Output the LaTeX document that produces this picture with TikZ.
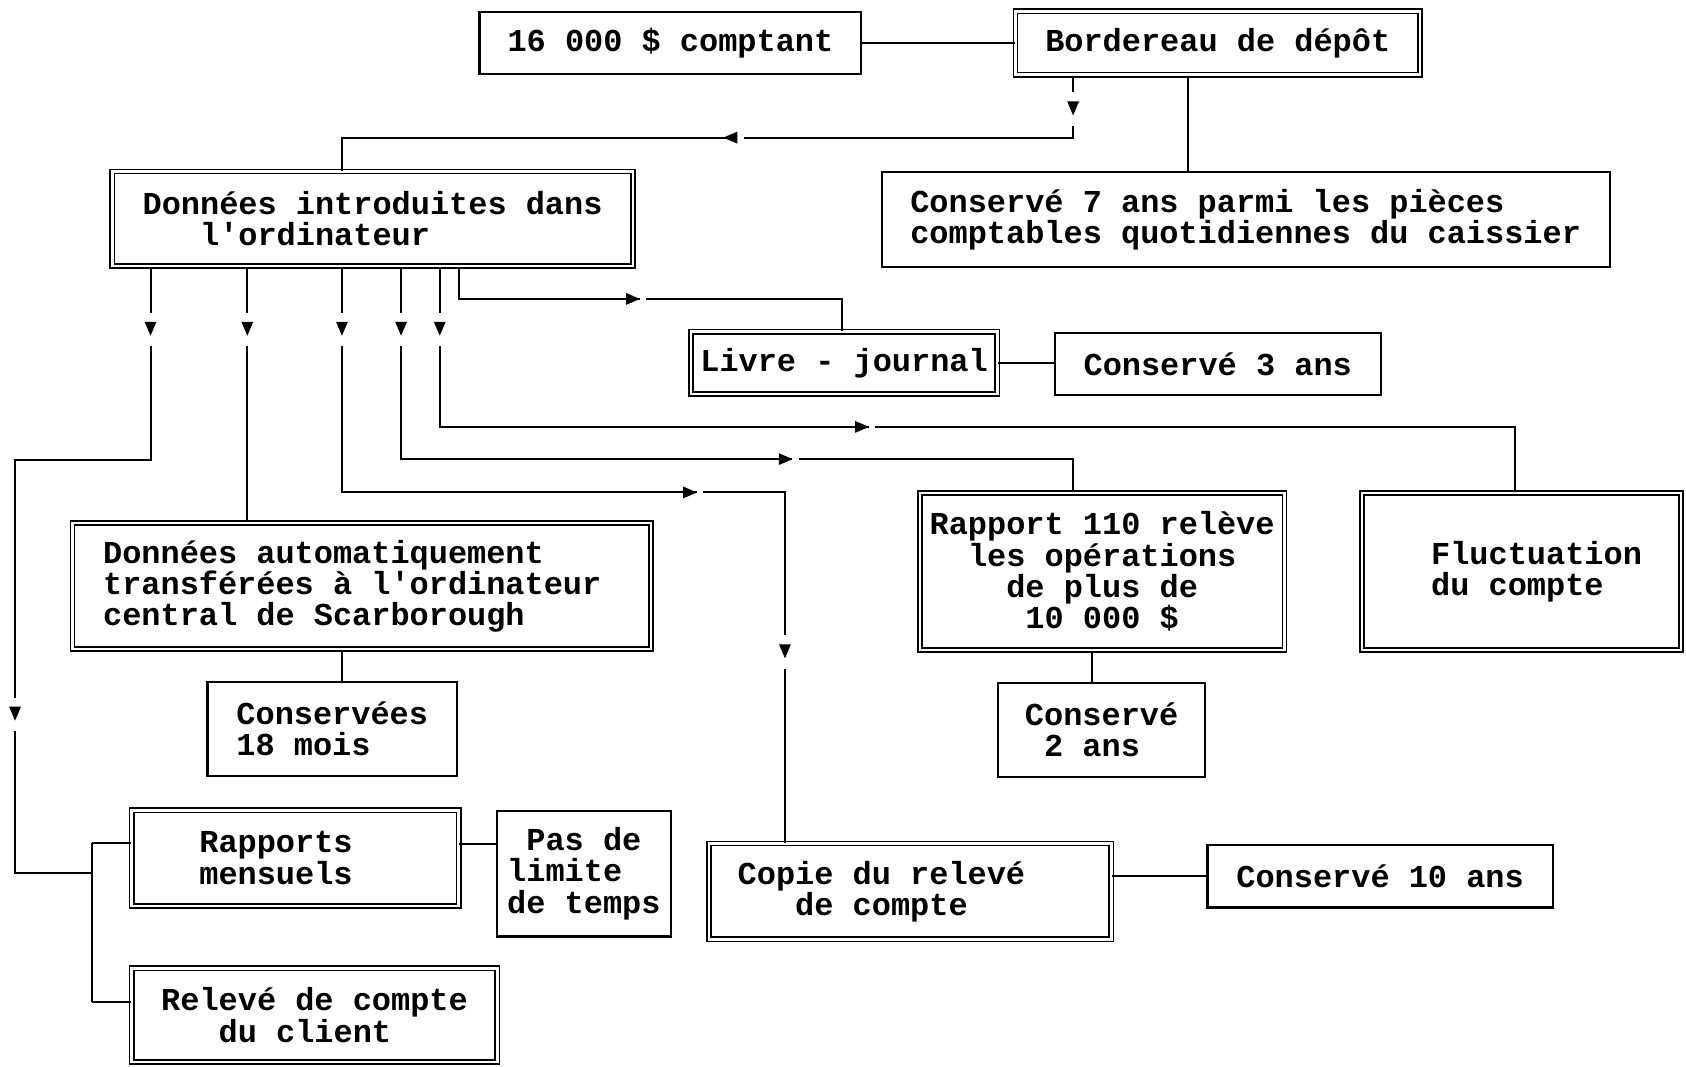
\documentclass[tikz,border=0pt]{standalone}
\usepackage{fontspec}
\setmonofont{Liberation Mono}
\usetikzlibrary{decorations.markings}

% small triangular tips set into a line, with a short break in the line
\newcommand\tipdown{\fill[white] (-15,-3) rectangle (16,3);\fill (-6.5,-5.5) -- (6.5,0) -- (-6.5,5.5) -- cycle;}
\newcommand\tipright{\fill[white] (6,-3) rectangle (12,3);\fill (-6.5,-5.5) -- (6.5,0) -- (-6.5,5.5) -- cycle;}
\newcommand\tipleft{\fill[white] (-13,-3) rectangle (-6,3);\fill (-6.5,-5.5) -- (6.5,0) -- (-6.5,5.5) -- cycle;}

\begin{document}
\begin{tikzpicture}[x=1pt,y=-1pt,
  txt/.style={font=\ttfamily\bfseries\fontsize{29.7}{29}\selectfont, inner sep=0pt, align=left},
  sbox/.style={txt, draw, line width=2pt},
  dbox/.style={txt, draw, line width=1.5pt, double, double distance=2.4pt},
  wire/.style={line width=1.9pt},
  marks/.style={postaction={decorate, decoration={markings, #1}}}]

\useasboundingbox (0,0) rectangle (1568,992);

% boxes
\node[sbox, minimum width=355pt, minimum height=58pt] (a) at (623.5,40) {16 000 \$ comptant};
\node[dbox, minimum width=376pt, minimum height=59pt] (b) at (1132.5,40) {Bordereau de dépôt};
\node[sbox, minimum width=677pt, minimum height=88pt] (d) at (1158.5,204) {Conservé 7 ans parmi les pièces\\comptables quotidiennes du caissier};
\node[dbox, minimum width=484pt, minimum height=88pt] (c) at (346.5,203.5) {Données introduites dans\\\phantom{XXX}l'ordinateur};
\node[dbox, minimum width=285pt, minimum height=58pt] (f) at (785,337.5) {Livre - journal};
\node[sbox, minimum width=303pt, minimum height=57pt] (g) at (1132.5,338.5) {Conservé 3 ans};
\node[dbox, minimum width=538pt, minimum height=117pt] (e) at (336.5,545) {Données automatiquement\\transférées à l'ordinateur\phantom{X}\\central de Scarborough};
\node[sbox, minimum width=232pt, minimum height=88pt] (h) at (309,678) {Conservées\\18 mois};
\node[dbox, minimum width=339pt, minimum height=146pt, align=center] (i) at (1025,531.5) {Rapport 110 relève\\les opérations\\de plus de\\10 000 \$};
\node[sbox, minimum width=193pt, minimum height=88pt] (j) at (1024.5,679) {Conservé\\\phantom{X}2 ans};
\node[dbox, minimum width=297pt, minimum height=146pt] (k) at (1415,531.5) {\hspace*{28pt}Fluctuation\\\hspace*{28pt}du compte};
\node[dbox, minimum width=304pt, minimum height=89pt] (l) at (274.5,798) {Rapports\phantom{XX}\\mensuels};
\node[sbox, minimum width=162pt, minimum height=117pt] (m) at (543,812.5) {\phantom{X}Pas de\\limite\\de temps};
\node[dbox, minimum width=340pt, minimum height=87pt] (n) at (292.5,944) {Relevé de compte\\\phantom{XXX}du client};
\node[dbox, minimum width=374pt, minimum height=89pt] (o) at (846.5,829) {Copie du relevé\phantom{XXX}\\\phantom{XXX}de compte};
\node[sbox, minimum width=321pt, minimum height=58pt] (p) at (1283.5,815) {Conservé 10 ans};

% junction feeding the two monthly outputs
\coordinate (jt) at (86,784);
\coordinate (jm) at (86,812);
\coordinate (jb) at (86,932);

% plain links
\draw[wire] (a) -- (b);
\draw[wire] (b.south -| 1105,0) -- (d.north -| 1105,0);
\draw[wire] (f.east) -- (f.east -| g.west);
\draw[wire] (e.south -| 318,0) -- (h.north -| 318,0);
\draw[wire] (i.south -| 1016,0) -- (j.north -| 1016,0);
\draw[wire] ([yshift=13pt]l.east) -- ([yshift=13pt]l.east -| m.west);
\draw[wire] (p.west) -- (p.west -| o.east);
\draw[wire] (jt) -- (jb);
\draw[wire] (jt) -- (jt -| l.west);
\draw[wire] (jb) -- (jb -| n.west);

% deposit slip to computer entry
\draw[wire, marks={mark=at position 30.6pt with {\tipdown}, mark=at position 376.6pt with {\tipleft}}]
  (b.south -| 998,0) -- (998,128) -- (318,128) -- (c.north -| 318,0);

% computer entry to its outputs
\draw[wire, marks={mark=at position 57.5pt with {\tipdown}, mark=at position 541.5pt with {\tipdown}}]
  (c.south -| 140,0) -- (140,428) -- (14,428) -- (14,812) -- (jm);
\draw[wire, marks={mark=at position 57.5pt with {\tipdown}}]
  (c.south -| 230,0) -- (e.north -| 230,0);
\draw[wire, marks={mark=at position 57.5pt with {\tipdown}, mark=at position 533.5pt with {\tipright}, mark=at position 769.5pt with {\tipdown}}]
  (c.south -| 318,0) -- (318,458) -- (730,458) -- (o.north -| 730,0);
\draw[wire, marks={mark=at position 57.5pt with {\tipdown}, mark=at position 536.5pt with {\tipright}}]
  (c.south -| 373,0) -- (373,427) -- (998,427) -- (i.north -| 998,0);
\draw[wire, marks={mark=at position 57.5pt with {\tipdown}, mark=at position 541.5pt with {\tipright}}]
  (c.south -| 409,0) -- (409,397) -- (1409,397) -- (k.north -| 1409,0);
\draw[wire, marks={mark=at position 191.5pt with {\tipright}}]
  (c.south -| 427,0) -- (427,278) -- (783,278) -- (f.north -| 783,0);

\end{tikzpicture}
\end{document}
